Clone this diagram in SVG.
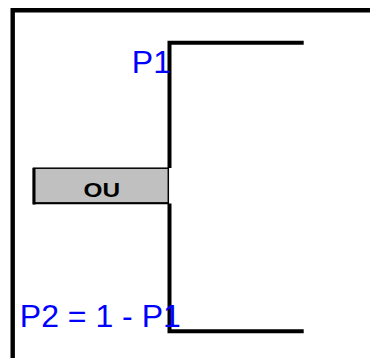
<svg xmlns="http://www.w3.org/2000/svg" width="370" height="358" viewBox="0 0 370 358">
<style>
.ln{fill:none;stroke:#000;stroke-width:4;stroke-linecap:butt}
.lbl{font-family:"Liberation Sans",Arial,sans-serif;font-size:32px;fill:#0000ff}
.box{fill:#c0c0c0;stroke:#000;stroke-width:1.5}
.ou{font-family:"Liberation Sans",Arial,sans-serif;font-size:19.5px;font-weight:bold;fill:#000}
</style>
<rect x="0" y="0" width="370" height="358" fill="#fff"/>
<g id="connectors">
<polyline class="ln" points="12.7,358 12.7,10.3 370,10.3" style="stroke-width:4.4"/>
<polyline class="ln" points="303.7,42.8 169.5,42.8 169.5,168"/>
<polyline class="ln" points="169.5,203.5 169.5,331.3 303.7,331.3"/>
</g>
<g id="node-ou">
<rect class="box" x="33.5" y="168.2" width="134.8" height="35"/>
<line x1="34" y1="168" x2="34" y2="204.5" stroke="#000" stroke-width="3"/>
<line x1="33" y1="203.3" x2="169" y2="203.3" stroke="#000" stroke-width="2"/>
<text class="ou" text-anchor="middle" transform="translate(101.7,196.8) scale(1.25,1)">OU</text>
</g>
<g id="label-p1">
<text class="lbl" x="131.8" y="72.7">P1</text>
</g>
<g id="label-p2">
<text class="lbl" x="19.8" y="326.7">P2 = 1 - P1</text>
</g>
</svg>
